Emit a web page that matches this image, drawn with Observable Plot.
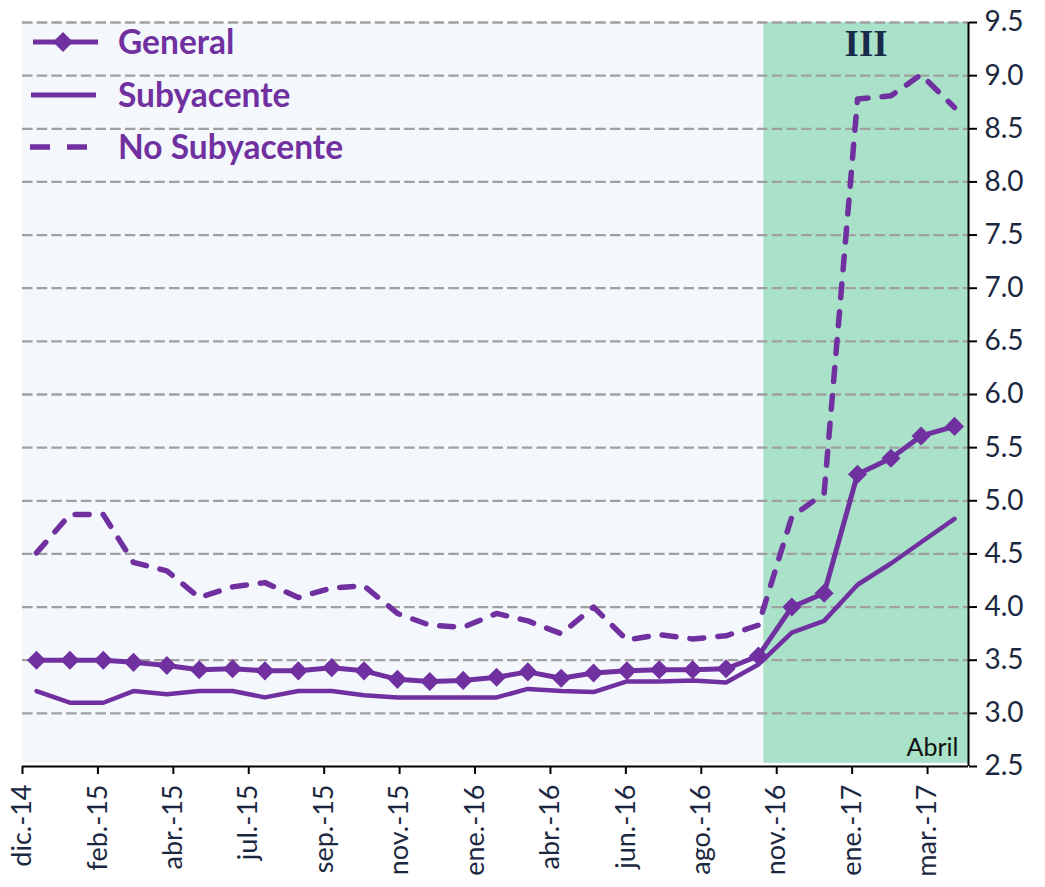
<!DOCTYPE html>
<html><head><meta charset="utf-8">
<script src="https://cdn.jsdelivr.net/npm/d3@7"></script>
<script src="https://cdn.jsdelivr.net/npm/@observablehq/plot@0.6"></script>
<style>
body{margin:0;background:#fff;}
#wrap{position:relative;width:1045px;height:887px;}
#legend{position:absolute;left:0;top:0;pointer-events:none;}
</style></head><body>
<div id="wrap"></div>
<script>
// ---- data ----
const months = ["2014-12-01","2015-01-01","2015-02-01","2015-03-01","2015-04-01","2015-05-01","2015-06-01","2015-07-01","2015-08-01","2015-09-01","2015-10-01","2015-11-01","2015-12-01","2016-01-01","2016-02-01","2016-03-01","2016-04-01","2016-05-01","2016-06-01","2016-07-01","2016-08-01","2016-09-01","2016-10-01","2016-11-01","2016-12-01","2017-01-01","2017-02-01","2017-03-01","2017-04-01"];
const general = [3.50,3.50,3.50,3.48,3.45,3.41,3.42,3.40,3.40,3.43,3.40,3.32,3.30,3.31,3.34,3.39,3.33,3.38,3.40,3.41,3.41,3.42,3.54,4.00,4.13,5.25,5.40,5.61,5.70];
const subyacente = [3.21,3.10,3.10,3.21,3.18,3.21,3.21,3.15,3.21,3.21,3.17,3.15,3.15,3.15,3.15,3.23,3.21,3.20,3.30,3.30,3.31,3.29,3.46,3.76,3.87,4.21,4.41,4.61,4.83];
const noSubyacente = [4.51,4.87,4.87,4.42,4.34,4.09,4.19,4.23,4.09,4.18,4.20,3.94,3.83,3.81,3.94,3.87,3.75,4.00,3.69,3.74,3.70,3.73,3.83,4.85,5.07,8.78,8.81,9.01,8.70];
const seriesNames = ["General","Subyacente","No Subyacente"];
const xTickLabels = ["dic.-14","feb.-15","abr.-15","jul.-15","sep.-15","nov.-15","ene.-16","abr.-16","jun.-16","ago.-16","nov.-16","ene.-17","mar.-17"];
const yTicks = [2.5,3.0,3.5,4.0,4.5,5.0,5.5,6.0,6.5,7.0,7.5,8.0,8.5,9.0,9.5];
const periodLabel = "III";
const monthNote = "Abril";
const xStartStr = "2014-11-18", xEndStr = "2017-04-14", shadeStartStr = "2016-10-06";

// ---- build ----
const purple = "#7030a0";
const parse = d3.utcParse("%Y-%m-%d");
const dates = months.map(parse);
const xStart = parse(xStartStr), xEnd = parse(xEndStr), shadeStart = parse(shadeStartStr);
const rows = (vals) => dates.map((d, i) => ({date: d, value: vals[i]}));
const xTicks = xTickLabels.map((_, i) => d3.utcDay.offset(xStart, 70 * i));
const tickLabelMap = new Map(xTicks.map((t, i) => [+t, xTickLabels[i]]));
const bg = [
  {x1: xStart, x2: shadeStart, fill: "#f4f8fc"},
  {x1: shadeStart, x2: xEnd, fill: "#a9e2c8"}
];
const diamond = {draw(ctx, size) { const r = Math.sqrt(size) * 0.62625; ctx.moveTo(0, -r); ctx.lineTo(r, 0); ctx.lineTo(0, r); ctx.lineTo(-r, 0); ctx.closePath(); }};

const chart = Plot.plot({
  width: 1045, height: 887,
  marginTop: 22, marginRight: 77, marginBottom: 121, marginLeft: 22,
  style: {fontFamily: "Lato, 'Open Sans', sans-serif", background: "#fff", color: "#1b2840"},
  x: {type: "utc", domain: [xStart, xEnd]},
  y: {domain: [2.5, 9.5]},
  marks: [
    Plot.rect(bg, {x1: "x1", x2: "x2", y1: 2.53, y2: 9.5, fill: d => d.fill}),
    Plot.ruleY(yTicks.slice(1), {stroke: "#a0a0a0", strokeWidth: 2.3, strokeDasharray: "10.5,4.2"}),
    Plot.text([periodLabel], {x: new Date((+shadeStart + +xEnd) / 2), frameAnchor: "top", dy: 22, lineAnchor: "middle", fontFamily: "'Liberation Serif', serif", fontWeight: "bold", fontSize: 37, fill: "#1a2a4a"}),
    Plot.text([monthNote], {frameAnchor: "bottom-right", textAnchor: "end", dx: -10, dy: -19, lineAnchor: "middle", fontSize: 25, fill: "#111"}),
    Plot.line(rows(noSubyacente), {x: "date", y: "value", stroke: purple, strokeWidth: 5.5, strokeDasharray: "14,14", strokeLinecap: "round", strokeLinejoin: "round"}),
    Plot.line(rows(subyacente), {x: "date", y: "value", stroke: purple, strokeWidth: 4.5}),
    Plot.line(rows(general), {x: "date", y: "value", stroke: purple, strokeWidth: 5}),
    Plot.dot(rows(general), {x: "date", y: "value", symbol: diamond, r: 8.6, fill: purple, stroke: "none"}),
    Plot.ruleY([2.5], {stroke: "#000", strokeWidth: 2}),
    Plot.ruleX([xEnd], {y1: 2.5, y2: 9.5, stroke: "#000", strokeWidth: 2}),
    Plot.axisY({anchor: "right", ticks: yTicks, tickFormat: d3.format(".1f"), tickSize: 8, tickPadding: 8, fontSize: 28, label: null, stroke: "#000", strokeWidth: 2}),
    Plot.axisX({ticks: xTicks, tickFormat: d => tickLabelMap.get(+d), tickRotate: -90, tickSize: 8, tickPadding: 10, fontSize: 27, label: null, stroke: "#000", strokeWidth: 2})
  ]
});
const wrap = document.getElementById("wrap");
wrap.appendChild(chart);

// legend overlay
const leg = d3.select(wrap).append("svg").attr("id", "legend").attr("width", 420).attr("height", 180);
const rowsY = [42, 95, 147];
leg.append("line").attr("x1", 33).attr("x2", 98).attr("y1", rowsY[0]).attr("y2", rowsY[0]).attr("stroke", purple).attr("stroke-width", 5);
leg.append("path").attr("d", "M63,32L73,42L63,52L53,42Z").attr("fill", purple);
leg.append("line").attr("x1", 31).attr("x2", 96).attr("y1", rowsY[1]).attr("y2", rowsY[1]).attr("stroke", purple).attr("stroke-width", 5);
leg.append("line").attr("x1", 30).attr("x2", 89).attr("y1", rowsY[2]).attr("y2", rowsY[2]).attr("stroke", purple).attr("stroke-width", 5.5).attr("stroke-dasharray", "20,17");
seriesNames.forEach((n, i) => {
  leg.append("text").attr("x", 118).attr("y", rowsY[i] + 12).attr("fill", purple)
    .attr("font-family", "Lato, sans-serif").attr("font-weight", "bold").attr("font-size", 33.5).text(n);
});
</script>
</body></html>
